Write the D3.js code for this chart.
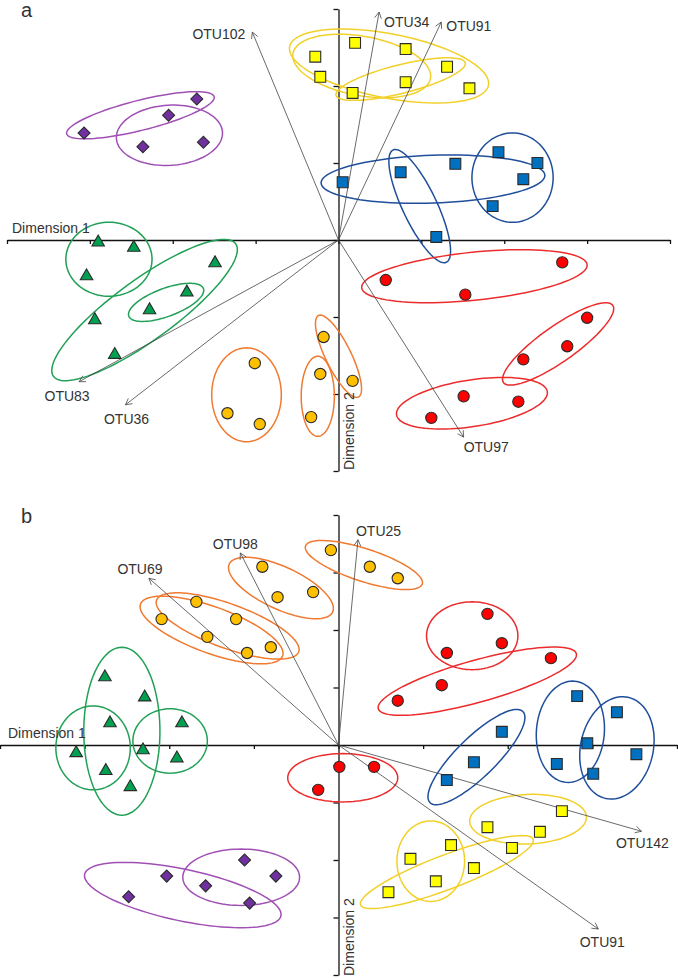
<!DOCTYPE html>
<html lang="en">
<head>
  <meta charset="UTF-8">
  <title>Ordination biplots a and b</title>
  <script src="https://d3js.org/d3.v7.min.js"></script>
  <style>
    body { margin: 0; background: #fff; }
    text { font-family: Arial, "Liberation Sans", sans-serif; fill: #333; }
  </style>
</head>
<body>
  <svg id="chart" width="678" height="978"></svg>

  <script>
    // ---------- data: panel a (scores in tick units) ----------
    const purpleA = [[-3.07,1.39],[-2.05,1.62],[-1.71,1.83],[-2.36,1.21],[-1.63,1.27]];
    const yellowA = [[-0.28,2.38],[-0.22,2.12],[0.20,2.56],[0.81,2.48],[1.31,2.25],[0.81,2.05],[0.17,1.91],[1.58,1.97]];
    const blueA   = [[0.05,0.75],[0.75,0.88],[1.41,0.99],[1.93,1.14],[2.40,1.00],[2.23,0.79],[1.86,0.44],[1.18,0.04]];
    const redA    = [[0.57,-0.52],[1.53,-0.71],[2.70,-0.29],[3.00,-1.01],[2.76,-1.38],[2.23,-1.55],[1.51,-2.03],[2.17,-2.10],[1.12,-2.31]];
    const orangeA = [[-1.01,-1.60],[-1.34,-2.25],[-0.95,-2.39],[-0.18,-1.26],[-0.22,-1.74],[-0.33,-2.30],[0.17,-1.83]];
    const greenA  = [[-2.90,-0.03],[-2.47,-0.10],[-3.04,-0.47],[-1.49,-0.30],[-1.83,-0.68],[-2.28,-0.91],[-2.94,-1.04],[-2.70,-1.49]];

    // ellipses: [cx, cy, ux, uy, vx, vy] (centre + two conjugate semi-axes)
    const purpleEllA = [[-2.39,1.62,0.89,0.24,-0.04,0.19],[-2.04,1.36,0.64,0.04,-0.02,0.39]];
    const yellowEllA = [[0.61,2.26,1.20,-0.25,0.07,0.41],[0.28,2.26,0.83,-0.16,0.06,0.38],[0.75,2.09,0.78,0.21,-0.04,0.18]];
    const blueEllA   = [[1.14,0.79,1.35,0.05,-0.01,0.31],[0.98,0.44,0.32,-0.73,0.19,0.09],[2.10,0.81,0.49,0,0,0.58]];
    const redEllA    = [[1.64,-0.47,1.36,0.15,-0.03,0.31],[2.65,-1.35,0.66,0.50,-0.12,0.19],[1.61,-2.12,0.91,0.15,-0.04,0.30]];
    const orangeEllA = [[-1.11,-2.01,0.42,0,0,0.61],[-0.25,-2.03,0.20,0,0,0.52],[0,-1.51,0.24,-0.53,0.14,0.07]];
    const greenEllA  = [[-2.77,-0.25,0.52,0,0,0.48],[-2.34,-0.91,1.10,0.86,-0.21,0.32],[-2.08,-0.81,0.45,0.18,-0.06,0.17]];

    const otuA = [
      {name: "OTU102", x: -1.04, y: 2.70},
      {name: "OTU34",  x: 0.49,  y: 2.96},
      {name: "OTU91",  x: 1.24,  y: 2.83},
      {name: "OTU83",  x: -3.13, y: -1.84},
      {name: "OTU36",  x: -2.57, y: -2.14},
      {name: "OTU97",  x: 1.51,  y: -2.56}
    ];
    const xTicksA = [-4,-3,-2,-1,0,1,2,3,4];
    const yTicksA = [-3,-2,-1,0,1,2,3];

    // ---------- data: panel b ----------
    const purpleB = [[-1.11,-2.00],[-0.74,-2.28],[-2.03,-2.28],[-1.57,-2.45],[-1.05,-2.75],[-2.48,-2.64]];
    const yellowB = [[2.64,-1.15],[1.76,-1.43],[2.38,-1.51],[2.05,-1.79],[1.33,-1.74],[0.85,-1.98],[1.60,-2.14],[1.15,-2.37],[0.59,-2.56]];
    const blueB   = [[2.82,0.85],[3.29,0.57],[1.93,0.23],[2.94,0.03],[3.52,-0.16],[1.60,-0.30],[2.58,-0.33],[3.01,-0.50],[1.28,-0.61]];
    const redB    = [[1.76,2.28],[1.93,1.77],[1.28,1.60],[2.51,1.51],[1.22,1.04],[0.70,0.77],[0.01,-0.38],[0.42,-0.38],[-0.24,-0.78]];
    const orangeB = [[-0.09,3.39],[0.37,3.10],[0.70,2.90],[-0.90,3.10],[-0.72,2.57],[-0.30,2.66],[-1.68,2.49],[-2.09,2.19],[-1.21,2.19],[-1.55,1.88],[-0.80,1.70],[-1.08,1.60]];
    const greenB  = [[-2.76,1.18],[-2.29,0.83],[-2.70,0.38],[-1.85,0.38],[-3.10,-0.14],[-2.31,-0.09],[-1.91,-0.23],[-2.75,-0.45],[-2.46,-0.73]];

    const purpleEllB = [[-1.84,-2.61,1.16,-0.36,0.06,0.44],[-1.15,-2.30,0.69,0,0,0.49]];
    const yellowEllB = [[2.24,-1.29,0.69,0.04,-0.01,0.43],[1.09,-2.02,0.40,0,0,0.70],[1.28,-2.21,1.02,0.57,-0.07,0.28]];
    const blueEllB   = [[1.63,-0.21,0.55,0.79,-0.16,0.25],[2.74,0.23,0.05,0.88,-0.40,0.05],[3.29,-0.05,0.13,0.88,-0.42,0.13]];
    const redEllB    = [[1.58,1.90,0.54,0,0,0.59],[1.64,1.11,1.17,0.48,-0.07,0.35],[0.05,-0.57,0.65,0,0,0.42]];
    const orangeEllB = [[0.30,3.13,0.69,-0.33,0.06,0.27],[-0.68,2.73,0.61,-0.42,0.11,0.33],[-1.50,2.00,0.84,-0.45,0.09,0.38],[-1.31,2.07,0.84,-0.45,0.09,0.36]];
    const greenEllB  = [[-2.56,0.24,0.45,0,0,1.46],[-2.90,-0.05,0.44,0,0,0.73],[-1.99,0.07,0.44,0,0,0.56]];

    const otuB = [
      {name: "OTU69",  x: -2.24, y: 2.90},
      {name: "OTU98",  x: -1.16, y: 3.34},
      {name: "OTU25",  x: 0.23,  y: 3.57},
      {name: "OTU142", x: 3.58,  y: -1.50},
      {name: "OTU91",  x: 3.07,  y: -3.20}
    ];
    const xTicksB = [-4,-3,-2,-1,0,1,2,3,4];
    const yTicksB = [-4,-3,-2,-1,0,1,2,3,4];

    // ---------- styles / layout ----------
    const groupStyle = {
      purple: {fill: "#7030A0", line: "#A050B5", shape: "diamond"},
      yellow: {fill: "#FFFF00", line: "#F2D02A", shape: "square"},
      blue:   {fill: "#0070C0", line: "#1F4E9B", shape: "square"},
      red:    {fill: "#FF0000", line: "#EC2C2C", shape: "circle"},
      orange: {fill: "#FFC000", line: "#F07A30", shape: "circle"},
      green:  {fill: "#00A050", line: "#21A056", shape: "triangle"}
    };

    // label offsets from arrow tips (px)
    const labelPlaceA = {
      OTU102: ["end", -7, 7], OTU34: ["start", 5, 15], OTU91: ["start", 5, 9],
      OTU83: ["middle", -12, 19], OTU36: ["middle", 1, 19], OTU97: ["start", 0, 15]
    };
    const labelPlaceB = {
      OTU69: ["middle", -9, -4], OTU98: ["middle", -5, -4], OTU25: ["start", -2, -4],
      OTU142: ["middle", 1, 17], OTU91: ["middle", 4, 18]
    };

    const panels = [
      {
        letter: "a", letterPos: [21, 17],
        xDomain: [-4, 4], xRange: [7, 670], yDomain: [-3, 3], yRange: [471, 9],
        xTicks: xTicksA, yTicks: yTicksA,
        points: {purple: purpleA, yellow: yellowA, blue: blueA, red: redA, orange: orangeA, green: greenA},
        ellipses: {purple: purpleEllA, yellow: yellowEllA, blue: blueEllA, red: redEllA, orange: orangeEllA, green: greenEllA},
        otus: otuA, place: labelPlaceA, dim1X: 12, dim2Y: 470
      },
      {
        letter: "b", letterPos: [21, 523],
        xDomain: [-4, 4], xRange: [0, 677], yDomain: [-4, 4], yRange: [975, 515],
        xTicks: xTicksB, yTicks: yTicksB,
        points: {purple: purpleB, yellow: yellowB, blue: blueB, red: redB, orange: orangeB, green: greenB},
        ellipses: {purple: purpleEllB, yellow: yellowEllB, blue: blueEllB, red: redEllB, orange: orangeEllB, green: greenEllB},
        otus: otuB, place: labelPlaceB, dim1X: 8, dim2Y: 976
      }
    ];

    const svg = d3.select("#chart");

    const symbols = {
      diamond:  d3.symbol().type(d3.symbolSquare).size(72),
      square:   d3.symbol().type(d3.symbolSquare).size(118),
      circle:   d3.symbol().type(d3.symbolCircle).size(100),
      triangle: d3.symbol().type(d3.symbolTriangle).size(68)
    };

    panels.forEach(p => {
      const x = d3.scaleLinear().domain(p.xDomain).range(p.xRange);
      const y = d3.scaleLinear().domain(p.yDomain).range(p.yRange);
      const g = svg.append("g");

      // axes crossing at the origin
      const gx = g.append("g")
        .attr("transform", `translate(0,${y(0)})`)
        .call(d3.axisBottom(x).tickValues(p.xTicks).tickSize(4).tickSizeOuter(0).tickFormat(""));
      const gy = g.append("g")
        .attr("transform", `translate(${x(0)},0)`)
        .call(d3.axisLeft(y).tickValues(p.yTicks).tickSize(5).tickSizeOuter(0).tickFormat(""));
      [gx, gy].forEach(a => a.selectAll("path, line").attr("stroke", "#111").attr("stroke-width", 1.3));

      // group ellipses
      const ellLine = d3.line().curve(d3.curveLinearClosed);
      const ellPts = e => d3.range(0, 96).map(i => {
        const t = i / 96 * 2 * Math.PI;
        return [x(e[0] + e[2] * Math.cos(t) + e[4] * Math.sin(t)),
                y(e[1] + e[3] * Math.cos(t) + e[5] * Math.sin(t))];
      });
      Object.entries(p.ellipses).forEach(([k, list]) => {
        g.selectAll(null).data(list).enter().append("path")
          .attr("d", e => ellLine(ellPts(e)))
          .attr("fill", "none")
          .attr("stroke", groupStyle[k].line)
          .attr("stroke-width", 1.5);
      });

      // OTU vectors
      const arrows = g.selectAll(null).data(p.otus).enter().append("g");
      arrows.append("line")
        .attr("x1", x(0)).attr("y1", y(0))
        .attr("x2", d => x(d.x)).attr("y2", d => y(d.y))
        .attr("stroke", "#444").attr("stroke-width", 0.8);
      arrows.append("path")
        .attr("d", d => {
          const tx = x(d.x), ty = y(d.y);
          const ang = Math.atan2(ty - y(0), tx - x(0));
          const L = 7, w = 0.5;
          const p1 = [tx - L * Math.cos(ang - w), ty - L * Math.sin(ang - w)];
          const p2 = [tx - L * Math.cos(ang + w), ty - L * Math.sin(ang + w)];
          return `M${p1}L${tx},${ty}L${p2}`;
        })
        .attr("fill", "none").attr("stroke", "#444").attr("stroke-width", 0.8);
      arrows.append("text")
        .attr("x", d => x(d.x) + p.place[d.name][1])
        .attr("y", d => y(d.y) + p.place[d.name][2])
        .attr("text-anchor", d => p.place[d.name][0])
        .attr("font-size", 14)
        .text(d => d.name);

      // sample points
      Object.entries(p.points).forEach(([k, pts]) => {
        const st = groupStyle[k];
        g.selectAll(null).data(pts).enter().append("path")
          .attr("d", symbols[st.shape])
          .attr("transform", d => `translate(${x(d[0])},${y(d[1])})` + (st.shape === "diamond" ? " rotate(45)" : ""))
          .attr("fill", st.fill)
          .attr("stroke", "#2b2b2b")
          .attr("stroke-width", 1.1);
      });

      // axis titles and panel letter
      g.append("text")
        .attr("x", p.dim1X).attr("y", y(0) - 7)
        .attr("font-size", 14)
        .text("Dimension 1");
      g.append("text")
        .attr("transform", `translate(${x(0) + 15},${p.dim2Y}) rotate(-90)`)
        .attr("font-size", 14)
        .text("Dimension 2");
      g.append("text")
        .attr("x", p.letterPos[0]).attr("y", p.letterPos[1])
        .attr("font-size", 20)
        .text(p.letter);
    });
  </script>
</body>
</html>
